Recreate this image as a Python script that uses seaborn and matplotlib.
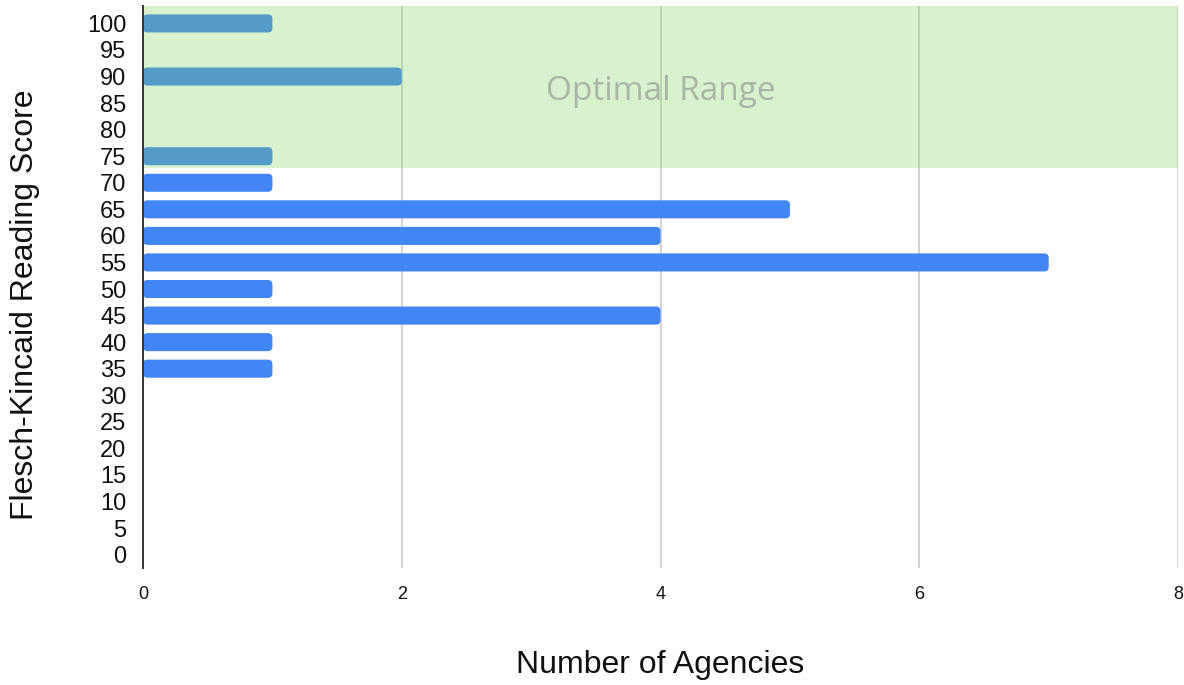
import matplotlib
matplotlib.use("Agg")
import matplotlib.pyplot as plt
import seaborn as sns
import pandas as pd
from matplotlib.patches import FancyBboxPatch

scores = ["100", "95", "90", "85", "80", "75", "70", "65", "60", "55", "50",
          "45", "40", "35", "30", "25", "20", "15", "10", "5", "0"]
agencies = [1, 0, 2, 0, 0, 1, 1, 5, 4, 7, 1, 4, 1, 1, 0, 0, 0, 0, 0, 0, 0]
x_ticks = [0, 2, 4, 6, 8]
optimal_label = "Optimal Range"

df = pd.DataFrame({"score": scores, "agencies": agencies})

sns.set_theme(style="white")
plt.rcParams["font.family"] = ["Liberation Sans", "DejaVu Sans"]

fig = plt.figure(figsize=(11.84, 6.85), dpi=100)
ax = fig.add_axes([0.1208, 0.171, 0.8742, 0.820])

sns.barplot(data=df, x="agencies", y="score", order=scores, orient="h",
            color="#4285F4", saturation=1, width=0.68, ax=ax, zorder=2)

# round the bars' corners
x_px = 1035 / 8.0
y_px = 562 / 21.0
aspect = x_px / y_px
for p in list(ax.patches):
    x0, y0 = p.get_x(), p.get_y()
    w, h = p.get_width(), p.get_height()
    if w <= 0:
        p.remove()
        continue
    fb = FancyBboxPatch((x0, y0), w, h,
                        boxstyle="round,pad=0,rounding_size=0.035",
                        mutation_aspect=aspect, facecolor=p.get_facecolor(),
                        edgecolor="none", zorder=2)
    p.remove()
    ax.add_patch(fb)

ax.set_xlim(0, 8)
ax.set_ylim(len(scores) - 0.5, -0.65)
ax.set_xticks(x_ticks)
ax.set_xticklabels([str(t) for t in x_ticks], fontsize=13, color="#111111")
ax.tick_params(axis="x", length=0, pad=13)
ax.tick_params(axis="y", length=0, pad=12, labelsize=17, labelcolor="#111111")

ax.grid(axis="x", color="#cccccc", linewidth=1.2, zorder=1)
ax.grid(axis="y", visible=False)
ax.set_axisbelow(True)

for s in ["top", "right", "bottom"]:
    ax.spines[s].set_visible(False)
ax.spines["left"].set_color("#333333")
ax.spines["left"].set_linewidth(1.4)
ax.spines["left"].set_zorder(5)

# optimal range band
ax.axhspan(-0.65, 5.45, color="#80d462", alpha=0.3, lw=0, zorder=3)
ax.text(4, 2.55, optimal_label, ha="center", va="center", fontsize=24,
        color="#a8b6a3", family=["Open Sans", "DejaVu Sans"], zorder=4)

ax.set_xlabel("Number of Agencies", fontsize=23, color="#111111", va="center")
ax.set_ylabel("Flesch-Kincaid Reading Score", fontsize=23, color="#111111",
              va="center", ha="center")
ax.xaxis.set_label_coords(0.5, -0.173)
ax.yaxis.set_label_coords(-0.114, 0.468)

fig.savefig("out.png", dpi=100, facecolor="white")
